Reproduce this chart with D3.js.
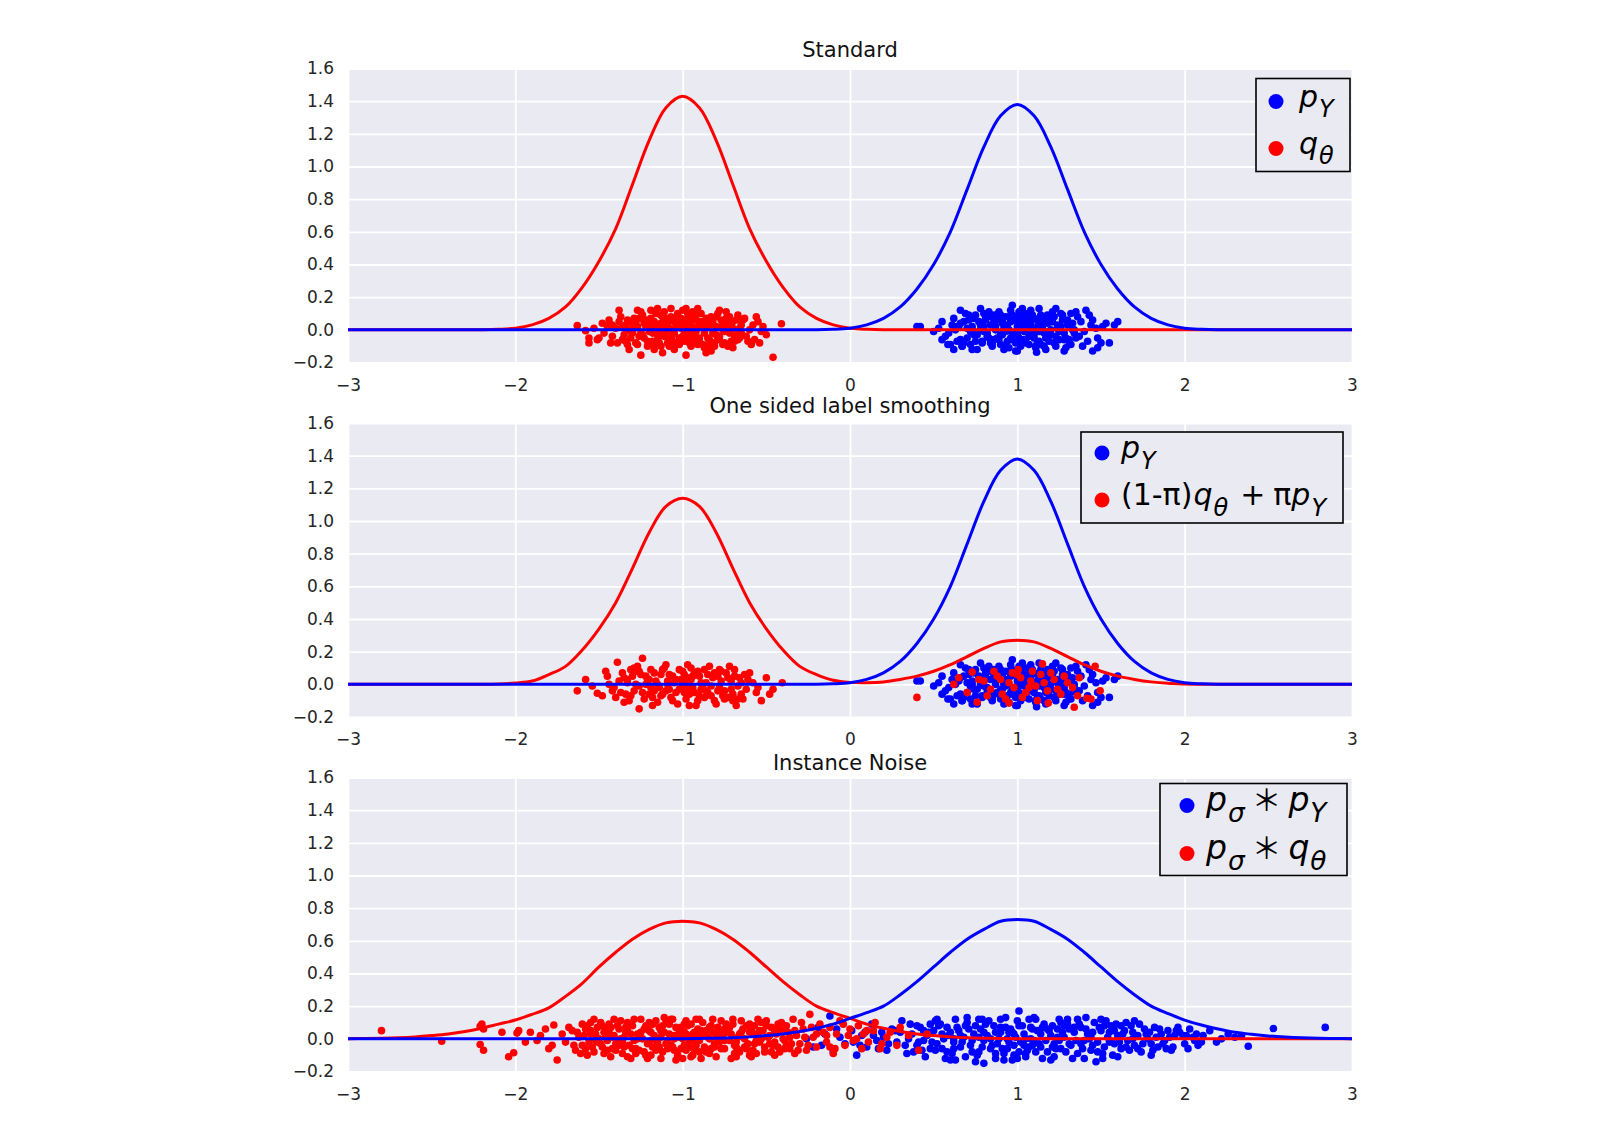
<!DOCTYPE html>
<html>
<head>
<meta charset="utf-8">
<script src="https://cdn.jsdelivr.net/npm/d3@7"></script>
<style>
  body { margin: 0; background: #fff; }
  svg { display: block; }
</style>
</head>
<body>
<script>
const xGrid = [-3, -2.9, -2.8, -2.7, -2.6, -2.5, -2.4, -2.3, -2.2, -2.1, -2, -1.9, -1.8, -1.7, -1.6, -1.5, -1.4, -1.3, -1.2, -1.1,
  -1, -0.9, -0.8, -0.7, -0.6, -0.5, -0.4, -0.3, -0.2, -0.1, 0, 0.1, 0.2, 0.3, 0.4, 0.5, 0.6, 0.7, 0.8, 0.9,
  1, 1.1, 1.2, 1.3, 1.4, 1.5, 1.6, 1.7, 1.8, 1.9, 2, 2.1, 2.2, 2.3, 2.4, 2.5, 2.6, 2.7, 2.8, 2.9, 3]

// curves
const stdRed = [0, 0, 0, 0, 0, 0, 0, 0, 0, 0.003, 0.01, 0.03, 0.07, 0.14, 0.26, 0.42, 0.62, 0.89, 1.16, 1.36,
  1.43, 1.36, 1.16, 0.89, 0.62, 0.42, 0.26, 0.14, 0.07, 0.03, 0.01, 0.003, 0, 0, 0, 0, 0, 0, 0, 0,
  0, 0, 0, 0, 0, 0, 0, 0, 0, 0, 0, 0, 0, 0, 0, 0, 0, 0, 0, 0, 0]
const stdBlue = [0, 0, 0, 0, 0, 0, 0, 0, 0, 0, 0, 0, 0, 0, 0, 0, 0, 0, 0, 0,
  0, 0, 0, 0, 0, 0, 0, 0, 0, 0.003, 0.01, 0.03, 0.07, 0.14, 0.25, 0.40, 0.60, 0.86, 1.12, 1.31,
  1.38, 1.31, 1.12, 0.86, 0.60, 0.40, 0.25, 0.14, 0.07, 0.03, 0.01, 0.003, 0, 0, 0, 0, 0, 0, 0, 0, 0]
const smoothRed = [0, 0, 0, 0, 0, 0, 0, 0, 0, 0.002, 0.008, 0.02, 0.06, 0.11, 0.21, 0.34, 0.50, 0.71, 0.93, 1.09,
  1.14, 1.09, 0.93, 0.71, 0.50, 0.34, 0.21, 0.11, 0.06, 0.025, 0.012, 0.01, 0.015, 0.03, 0.05, 0.08, 0.12, 0.17, 0.22, 0.26,
  0.27, 0.26, 0.22, 0.17, 0.12, 0.08, 0.05, 0.03, 0.015, 0.006, 0.002, 0, 0, 0, 0, 0, 0, 0, 0, 0, 0]
const noiseRed = [0.001, 0.002, 0.004, 0.007, 0.012, 0.02, 0.03, 0.045, 0.065, 0.09, 0.115, 0.15, 0.19, 0.26, 0.34, 0.44, 0.53, 0.61, 0.67, 0.71,
  0.72, 0.71, 0.67, 0.61, 0.53, 0.44, 0.35, 0.27, 0.20, 0.16, 0.125, 0.09, 0.065, 0.045, 0.03, 0.02, 0.012, 0.007, 0.004, 0.002,
  0.001, 0, 0, 0, 0, 0, 0, 0, 0, 0, 0, 0, 0, 0, 0, 0, 0, 0, 0, 0, 0]
const noiseBlue = [0, 0, 0, 0, 0, 0, 0, 0, 0, 0, 0, 0, 0, 0, 0, 0, 0, 0, 0, 0,
  0.001, 0.002, 0.004, 0.007, 0.012, 0.02, 0.03, 0.045, 0.065, 0.09, 0.125, 0.16, 0.20, 0.27, 0.35, 0.44, 0.53, 0.61, 0.67, 0.72,
  0.73, 0.72, 0.67, 0.61, 0.53, 0.44, 0.35, 0.27, 0.20, 0.155, 0.115, 0.085, 0.06, 0.04, 0.028, 0.018, 0.011, 0.006, 0.003, 0.002, 0.001]

// samples, flat x,y lists
const stdRedPts = [-1.00, .02, -0.98, -.03, -1.05, .05, -0.93, .00, -1.10, -.02, -0.88, .04, -1.15, .01, -0.85, -.05, -1.02, -.07, -0.97, .07,
  -1.20, .03, -0.80, .02, -1.08, -.06, -0.92, .06, -1.25, -.02, -0.75, -.01, -1.12, .08, -0.90, -.08, -1.30, .04, -0.70, .05,
  -1.03, .10, -0.95, -.10, -1.18, -.07, -0.83, .08, -1.22, .06, -0.78, -.06, -1.35, -.03, -0.68, -.03, -1.06, .00, -0.99, -.01,
  -1.14, -.04, -0.86, .01, -1.27, .02, -0.73, .03, -1.01, .04, -0.94, -.04, -1.09, .03, -0.91, .02, -1.17, .05, -0.82, -.02,
  -1.23, -.05, -0.77, .06, -1.32, .00, -0.66, .01, -1.38, .05, -0.62, -.04, -1.04, -.09, -0.96, .09, -1.11, .11, -0.87, -.11,
  -1.19, .00, -0.81, -.08, -1.28, -.08, -0.72, .08, -1.36, -.06, -0.64, .06, -1.07, .06, -0.93, -.06, -1.13, -.10, -0.89, .10,
  -1.24, .09, -0.76, -.09, -1.40, .01, -0.60, .00, -1.42, -.04, -0.58, .03, -1.05, -.12, -1.00, .12, -1.16, .10, -0.84, -.12,
  -1.21, -.10, -0.79, .10, -1.29, .07, -0.71, -.07, -1.33, -.09, -0.67, .09, -1.44, .06, -0.57, -.06, -1.47, -.02, -0.55, .05,
  -0.98, .05, -1.02, -.05, -1.08, .01, -0.92, -.01, -1.15, -.06, -0.86, .06, -1.26, -.04, -0.74, .04, -1.34, .03, -0.69, -.05,
  -1.10, .07, -0.90, -.07, -1.01, .01, -0.95, .03, -1.06, -.03, -0.97, -.06, -1.12, -.01, -0.85, .03, -1.20, -.01, -0.80, -.03,
  -1.31, -.01, -0.65, -.02, -1.37, .08, -0.63, .07, -1.45, .02, -0.53, -.01, -1.50, -.05, -0.52, .02, -1.48, .04, -0.50, -.03,
  -1.39, -.08, -0.59, -.09, -1.25, .11, -0.74, .11, -1.17, -.12, -0.83, -.13, -1.03, .08, -0.94, .11, -1.09, -.08, -0.88, -.09,
  -1.15, .13, -0.98, .13, -1.25, -.155, -0.98, -.155, -1.38, .12, -1.63, .026, -1.58, -.005, -1.56, -.05, -1.56, -.08, -1.51, -.06,
  -0.46, -.168, -0.41, .037, -1.42, .03, -1.53, .01, -0.56, .08, -0.61, -.07, -1.32, -.12, -0.70, -.11, -1.43, -.08, -0.54, -.08,
  -1.07, .13, -0.91, .13, -1.27, .12, -0.78, .12, -1.19, .12, -0.86, -.14, -1.12, -.14, -1.04, .03, -0.96, -.02, -1.13, .04,
  -1.33, .06, -1.31, -.05, -1.29, .01, -1.27, -.09, -1.26, .07, -1.24, -.03, -1.22, .02, -1.21, -.07, -1.19, .07, -1.18, -.02,
  -1.16, .03, -1.14, -.08, -1.13, .09, -1.11, -.04, -1.10, .02, -1.08, -.10, -1.07, .08, -1.05, -.02, -1.04, .06, -1.02, -.09,
  -1.01, .07, -0.99, -.07, -0.98, .02, -0.96, -.08, -0.95, .06, -0.93, -.03, -0.92, .09, -0.90, -.05, -0.89, .05, -0.87, -.02,
  -0.86, .07, -0.84, -.06, -0.83, .03, -0.81, -.10, -0.80, .08, -0.78, -.04, -0.77, .02, -0.75, -.08, -0.74, .07, -0.72, -.02,
  -0.71, .04, -0.69, -.07, -0.68, .06, -0.66, -.05, -0.65, .03, -1.36, .02, -1.34, -.07, -1.30, -.02, -1.28, .05, -1.23, .04,
  -1.20, .06, -1.17, -.09, -1.12, .00, -1.09, .05, -1.06, -.07, -1.03, .04, -1.00, -.04, -0.97, .10, -0.94, .01, -0.91, -.09,
  -0.88, .03, -0.85, -.09, -0.82, .05, -0.79, -.05, -0.76, .00, -0.73, -.10, -0.70, .01, -0.67, -.06, -1.15, -.03, -0.96, .04]

const stdBluePts = [1.00, -.02, 1.03, .03, 0.96, .05, 1.07, -.04, 0.92, .01, 1.12, .02, 0.88, -.05, 1.16, .06, 0.84, .03, 1.20, -.03,
  0.99, .08, 1.05, -.08, 0.94, -.07, 1.10, .07, 0.90, .09, 1.14, -.09, 0.80, -.01, 1.24, .01, 0.77, .05, 1.28, -.06,
  1.02, .00, 0.97, -.03, 1.08, .04, 0.93, -.01, 1.13, -.01, 0.87, .02, 1.18, .04, 0.82, -.04, 1.22, .08, 0.79, -.08,
  1.30, .03, 0.73, .02, 1.34, -.02, 0.70, -.05, 1.38, .05, 0.66, .04, 1.01, .11, 1.06, .10, 0.95, -.11, 1.11, -.11,
  0.89, .11, 1.17, -.12, 0.85, -.10, 1.26, .10, 0.75, .09, 1.32, -.09, 0.68, -.08, 1.40, -.01, 0.63, .00, 1.44, .03,
  1.04, -.06, 0.98, .06, 1.09, -.02, 0.91, .04, 1.15, .01, 0.86, -.06, 1.19, -.07, 0.81, .07, 1.23, -.04, 0.78, .00,
  1.27, .06, 0.74, -.03, 1.31, -.06, 0.71, .06, 1.36, .08, 0.67, -.10, 1.42, -.07, 0.62, .07, 1.47, .01, 0.59, -.02,
  1.00, .05, 1.02, -.10, 0.96, .12, 1.08, .12, 0.92, -.12, 1.13, .13, 0.83, .11, 1.21, .11, 0.76, -.12, 1.29, -.11,
  1.35, .11, 0.69, .10, 1.39, -.10, 0.64, -.07, 1.45, .06, 0.61, .03, 1.48, -.05, 0.57, -.04, 1.51, .02, 0.55, .05,
  1.05, .02, 0.97, -.06, 1.10, -.05, 0.93, .08, 1.16, -.02, 0.88, .06, 1.20, .05, 0.84, -.08, 1.25, -.01, 0.80, .02,
  1.33, .00, 0.72, -.01, 1.37, -.04, 0.65, .02, 1.43, .09, 0.60, -.09, 1.50, -.08, 0.53, .01, 1.53, .04, 0.50, -.01,
  1.07, .07, 0.99, -.13, 1.12, -.08, 0.90, -.09, 1.18, .09, 0.86, .09, 1.23, .13, 0.78, .13, 1.28, -.13, 0.73, -.12,
  0.97, .15, 1.45, -.13, 1.115, -.137, 1.00, -.13, 0.585, -.09, 0.55, -.06, 0.40, .02, 0.42, .02, 1.60, .05, 1.58, .03,
  1.55, -.08, 1.48, -.11, 1.41, .12, 0.66, .12, 0.62, -.12, 1.03, .13, 1.14, .04, 0.95, .00, 1.06, -.01, 0.91, -.03,
  0.66, -.06, 0.68, .05, 0.70, .01, 0.72, -.09, 0.74, .07, 0.76, -.03, 0.78, .03, 0.79, -.07, 0.81, .06, 0.82, -.02,
  0.84, .08, 0.85, -.08, 0.87, .00, 0.88, .09, 0.90, -.03, 0.91, .06, 0.93, -.10, 0.94, .03, 0.96, -.05, 0.97, .09,
  0.99, -.08, 1.00, .02, 1.01, -.05, 1.03, .07, 1.04, -.01, 1.06, .04, 1.07, -.09, 1.09, .09, 1.10, -.03, 1.12, .06,
  1.13, -.07, 1.15, .03, 1.16, -.10, 1.18, .08, 1.19, -.01, 1.21, .05, 1.22, -.08, 1.24, .03, 1.25, -.06, 1.27, .09,
  1.28, -.02, 1.30, .06, 1.31, -.09, 1.33, .04, 1.35, -.05, 0.64, .02, 0.67, -.10, 0.71, .09, 0.75, -.07, 0.80, .10,
  0.83, -.05, 0.86, .05, 0.89, -.06, 0.92, .00, 0.95, .08, 0.98, -.02, 1.02, .10, 1.05, -.06, 1.08, .01, 1.11, -.10,
  1.14, .09, 1.17, -.05, 1.20, .00, 1.23, -.10, 1.26, .02, 1.29, -.05, 1.32, .10, 1.34, .00, 0.73, .00, 1.00, -.07]

const smoothRedPts = [-1.24, .16, -1.39, .135, -1.63, -.04, -1.51, -.055, -1.42, -.04, -1.58, .03, -0.405, .01, -0.46, -.03, -1.26, -.15, -0.96, -.13, -0.68, -.13, -0.53, -.10,
  -1.00, -.01, -0.97, .04, -1.04, -.05, -0.93, .07, -1.09, .02, -0.89, -.03, -1.13, .06, -0.86, .01, -1.17, -.04, -0.83, -.07,
  -1.21, .03, -0.79, .05, -1.26, -.01, -0.75, -.04, -1.30, .05, -0.71, .02, -1.34, -.06, -0.67, -.01, -1.38, .02, -0.63, .06,
  -1.02, .09, -0.98, -.09, -1.07, -.08, -0.95, .10, -1.11, .10, -0.91, -.10, -1.15, -.11, -0.87, .09, -1.19, .09, -0.81, -.10,
  -1.23, -.09, -0.77, .08, -1.28, .08, -0.73, -.08, -1.32, -.10, -0.69, .09, -1.36, .07, -0.65, -.06, -1.41, -.02, -0.61, .03,
  -1.01, .03, -0.99, -.05, -1.05, .01, -0.94, -.02, -1.08, -.03, -0.90, .05, -1.12, -.06, -0.85, -.05, -1.16, .02, -0.82, .04,
  -1.20, -.06, -0.78, -.02, -1.25, .06, -0.74, .07, -1.29, -.04, -0.70, -.06, -1.33, .01, -0.66, .04, -1.37, -.05, -0.62, -.03,
  -1.45, .05, -0.58, .01, -1.48, -.07, -0.56, -.05, -1.03, -.12, -0.97, .12, -1.10, .12, -0.92, -.13, -1.18, -.13, -0.84, .11,
  -1.27, .11, -0.80, -.12, -1.35, -.11, -0.72, .11, -1.06, .05, -0.96, -.06, -1.14, -.02, -0.88, .00, -1.22, .00, -0.76, -.07,
  -1.31, .09, -0.64, -.09, -1.40, -.08, -0.60, .07, -1.44, .00, -0.55, -.02, -0.50, .04, -0.48, -.06, -1.54, -.01, -1.46, .08,
  -1.33, .03, -1.31, -.07, -1.28, .00, -1.26, .08, -1.24, -.05, -1.22, .05, -1.19, -.02, -1.17, .07, -1.15, .00, -1.12, .09,
  -1.10, -.04, -1.08, .06, -1.06, -.10, -1.04, .03, -1.02, -.03, -0.99, .06, -0.97, -.02, -0.95, .03, -0.93, -.05, -0.91, .08,
  -0.89, .01, -0.87, -.08, -0.85, .06, -0.83, -.01, -0.81, .07, -0.79, -.04, -0.77, .02, -0.75, -.09, -0.73, .04, -0.71, -.03,
  -0.69, .05, -0.67, -.09, -0.65, .01, -1.35, .04, -1.29, .10, -1.20, .03, -1.13, -.07, -1.00, .08, -0.94, .05, -0.86, -.04,
  -0.78, .09, -0.70, -.10, -1.18, -.08, -1.09, .00, -0.98, .01, -0.90, -.07,
  0.40, -.08, 0.62, .00, 0.65, .04, 0.73, .075, 0.76, -.11, 0.95, -.115, 1.005, .09, 1.15, .125, 1.185, -.115, 1.34, -.14,
  1.465, .11, 1.495, -.04, 1.415, -.085, 1.44, -.09, 0.80, .02, 0.84, -.03, 0.88, .05, 0.91, -.06, 0.95, .01, 0.98, -.02,
  1.02, .04, 1.05, -.05, 1.08, .02, 1.11, -.01, 1.14, .06, 1.18, -.04, 1.22, .03, 1.26, -.06, 1.30, .01, 0.86, .08,
  0.93, -.09, 1.00, .06, 1.03, -.08, 1.09, .08, 1.12, -.10, 1.20, .07, 1.24, -.03, 1.28, .05, 1.33, -.02, 1.37, .04,
  0.82, -.07, 0.90, .03, 0.97, .07, 1.07, -.02, 1.16, .01, 1.36, -.07, 0.70, -.05, 0.77, .03]

const noiseRedPts = [-2.80, .05, -2.44, -.015, -2.21, .077, -2.19, .06, -2.20, .09, -2.21, -.035, -2.19, -.07, -2.04, -.11, -2.01, -.085, -1.98, .05,
  -1.99, .035, -1.91, .04, -1.87, -.01, -1.77, .085, -1.80, -.06, -1.75, -.13, -1.72, .03, -1.70, -.02, -1.66, .05, -1.64, -.07,
  -1.62, .01, -1.60, -.04, -1.58, .06, -1.56, -.02, -1.55, .03, -1.53, -.08, -1.51, .07, -1.50, .00, -1.48, -.05, -1.47, .04,
  -1.45, -.01, -1.44, .09, -1.42, -.06, -1.41, .02, -1.39, -.03, -1.38, .06, -1.36, -.09, -1.35, .01, -1.33, .05, -1.32, -.04,
  -1.30, .08, -1.29, -.01, -1.27, .03, -1.26, -.07, -1.24, .00, -1.23, .06, -1.21, -.03, -1.20, .10, -1.18, -.05, -1.17, .02,
  -1.15, -.02, -1.14, .07, -1.12, -.08, -1.11, .04, -1.09, -.01, -1.08, .09, -1.06, -.05, -1.05, .02, -1.03, -.10, -1.02, .05,
  -1.00, .00, -0.99, -.04, -0.97, .08, -0.96, -.02, -0.94, .03, -0.93, -.07, -0.91, .06, -0.90, -.01, -0.88, .10, -0.87, -.05,
  -0.85, .01, -0.84, -.09, -0.82, .04, -0.81, -.03, -1.16, .11, -1.13, -.12, -1.07, .12, -1.04, -.13, -0.98, .11, -0.95, -.11,
  -0.92, .12, -0.89, -.12, -1.19, .04, -1.10, -.03, -1.01, .07, -0.98, -.07, -0.95, .00, -0.86, .05, -0.83, -.06, -1.05, .00,
  -1.13, .01, -0.92, -.04, -0.79, .07, -0.78, -.02, -0.76, .02, -0.75, -.06, -0.73, .05, -0.72, -.01, -0.70, .09, -0.69, -.04,
  -0.67, .01, -0.66, -.08, -0.64, .06, -0.63, .00, -0.61, -.03, -0.60, .04, -0.58, -.07, -0.57, .08, -0.55, .02, -0.54, -.02,
  -0.52, .05, -0.51, -.05, -0.49, .01, -0.47, .07, -0.46, -.04, -0.44, .03, -0.42, -.08, -0.41, .10, -0.39, -.01, -0.37, .04,
  -0.36, -.06, -0.34, .12, -0.32, .02, -0.30, -.03, -0.28, .06, -0.26, -.07, -0.24, .15, -0.22, .01, -0.20, -.05, -0.18, .09,
  -0.16, .04, -0.14, -.02, -0.12, .07, -0.10, -.09, -0.08, .03, -0.06, .11, -0.03, -.04, 0.00, .06, 0.02, -.01, 0.05, .08,
  0.08, .03, 0.11, -.02, 0.14, .05, 0.18, -.06, 0.22, .01, 0.28, -.04, 0.30, .07, 0.35, .02, 0.41, -.07, 0.46, .03,
  -1.57, -.10, -1.49, .10, -1.43, -.11, -1.37, .11, -1.31, -.12, -1.25, .12, -1.22, -.10, -0.77, .11, -0.71, -.12, -0.65, .11,
  -0.59, -.11, -0.53, .10, -0.45, -.10, -0.40, .05, -1.46, .05, -1.40, -.03, -1.34, .04, -1.28, -.06, -0.74, .04, -0.68, -.05,
  -0.62, .08, -0.56, -.01,
  -1.59, .02, -1.57, .08, -1.54, -.05, -1.52, .03, -1.49, -.03, -1.46, .01, -1.43, .07, -1.40, -.07, -1.37, .00, -1.35, -.05,
  -1.33, .10, -1.31, .03, -1.28, -.09, -1.25, .04, -1.22, .08, -1.19, -.01, -1.16, -.07, -1.13, .05, -1.10, .10, -1.07, -.04,
  -1.04, .07, -1.01, -.06, -0.98, .03, -0.95, .09, -0.92, -.01, -0.89, .05, -0.86, -.08, -0.83, .08, -0.80, .01, -0.77, -.06,
  -0.74, .09, -0.71, .03, -0.68, -.02, -0.65, .04, -0.62, -.06, -0.59, .06, -0.56, -.09, -0.53, .00, -0.50, .08, -0.48, -.03,
  -0.45, .05, -0.43, -.05, -0.40, .00, -0.38, .08, -0.35, -.03, -0.33, .05, -0.31, -.07, -0.29, .10, -0.27, .01, -0.25, -.04,
  -1.68, .07, -1.65, -.04, -1.61, -.09, -1.55, .10, -1.47, -.09, -1.39, .08, -1.29, .12, -1.21, -.12, -1.11, .13, -1.00, -.12,
  -0.90, .12, -0.80, -.11, -0.70, .12, -0.60, -.10, -0.50, .11, -1.85, .02, -1.82, .06, -1.78, -.04, -1.94, -.02, -2.08, .04,
  -1.52, -.01, -1.44, .04, -1.36, -.02, -1.27, .00, -1.18, .09, -1.09, -.06, -0.99, .04, -0.91, .02, -0.84, .00, -0.75, .06,
  -0.66, -.07, -0.57, .03, -0.47, -.08, -0.38, -.04, -0.20, .03, -0.12, -.05, -0.04, .09, 0.07, -.06, 0.15, .10, 0.24, .04,
  -1.58, -.06, -1.55, .05, -1.51, -.02, -1.48, .08, -1.45, -.07, -1.42, .01, -1.38, -.04, -1.34, .07, -1.30, -.06, -1.26, .02,
  -1.23, -.08, -1.20, .05, -1.17, .00, -1.14, -.05, -1.12, .08, -1.08, .03, -1.05, -.07, -1.02, .01, -0.99, .09, -0.96, -.05,
  -0.93, .04, -0.90, -.08, -0.87, .02, -0.84, .07, -0.81, -.05, -0.78, .04, -0.75, -.01, -0.72, .07, -0.69, -.09, -0.66, .03,
  -0.63, -.05, -0.60, .09, -0.57, -.03, -0.54, .05, -0.51, -.08, -0.48, .02, -0.45, -.02, -0.42, .06, -0.39, -.06, -0.36, .01,
  -1.63, .04, -1.60, .09, -1.53, .12, -1.41, .12, -1.33, -.11, -1.19, -.10, -1.06, .12, -0.94, -.10, -0.82, .12, -0.68, -.11,
  -0.55, .12, -0.43, .09, -0.33, -.09, -0.23, .07, -0.14, .02, -0.09, -.06, -0.01, .02, 0.04, .00, 0.10, .05, 0.19, -.03]

const noiseBluePts = [-0.26, .00, -0.22, -.05, -0.19, .07, -0.15, .03, -0.12, .14, -0.10, -.08, -0.06, .01, -0.03, -.03, 0.01, .05, 0.04, -.10,
  0.07, .02, 0.10, -.05, 0.13, .09, 0.16, -.01, 0.19, .04, 0.22, -.07, 0.25, .06, 0.28, -.02, 0.31, .11, 0.34, -.09,
  0.37, .03, 0.40, -.04, 0.42, .07, 0.44, -.01, 0.46, .02, 0.48, -.06, 0.50, .05, 0.52, -.03, 0.54, .09, 0.56, .00,
  0.58, -.08, 0.60, .04, 0.62, -.02, 0.64, .07, 0.66, -.05, 0.68, .01, 0.70, .10, 0.72, -.04, 0.74, .03, 0.76, -.10,
  0.78, .06, 0.80, -.01, 0.45, -.11, 0.51, .11, 0.57, -.12, 0.63, .12, 0.69, -.11, 0.75, -.14, 0.79, .12,
  0.82, .02, 0.84, -.06, 0.86, .08, 0.88, -.03, 0.90, .04, 0.92, -.09, 0.94, .00, 0.96, .06, 0.98, -.04, 1.00, .11,
  1.02, -.02, 1.04, .03, 1.06, -.07, 1.08, .07, 1.10, -.01, 1.12, .05, 1.14, -.05, 1.16, .09, 1.18, -.08, 1.20, .02,
  0.83, .11, 0.87, -.12, 0.93, .13, 0.97, -.13, 1.01, .17, 1.05, -.11, 1.11, .12, 1.15, -.12, 0.89, .00, 0.99, .01,
  1.09, -.04, 1.19, .05, 1.22, -.03, 1.24, .06, 1.26, -.06, 1.28, .01, 1.30, .09, 1.32, -.04, 1.34, .04, 1.36, -.09,
  1.38, .07, 1.40, -.01, 1.42, .03, 1.44, -.07, 1.46, .10, 1.48, -.02, 1.50, .05, 1.52, -.05, 1.54, .01, 1.56, .08,
  1.58, -.03, 1.60, .02, 1.25, .12, 1.33, -.12, 1.41, .13, 1.47, -.14, 1.53, .11, 1.57, -.10,
  1.62, -.06, 1.64, .05, 1.66, -.01, 1.68, .08, 1.70, -.04, 1.72, .02, 1.74, -.08, 1.76, .06, 1.78, .00, 1.80, -.03,
  1.82, .07, 1.84, -.05, 1.86, .03, 1.88, -.01, 1.90, .05, 1.92, -.07, 1.94, .02, 1.97, .04, 2.00, -.03, 2.03, .06,
  2.05, .01, 2.08, -.04, 2.11, .02, 2.15, .05, 2.19, -.02, 2.22, .00, 2.26, .03, 2.30, .01, 2.34, .02, 2.38, -.045,
  2.53, .063, 2.84, .07,
  0.40, .08, 0.43, -.07, 0.47, .04, 0.49, -.02, 0.53, .08, 0.55, -.06, 0.59, .02, 0.61, -.09, 0.65, .05, 0.67, -.02,
  0.71, .06, 0.73, -.08, 0.77, .01, 0.79, -.05, 0.81, .09, 0.85, -.04, 0.87, .04, 0.91, -.06, 0.93, .07, 0.95, -.02,
  0.97, .04, 1.01, -.08, 1.03, .08, 1.05, .00, 1.07, -.05, 1.09, .06, 1.13, -.03, 1.15, .07, 1.17, -.01, 1.21, .08,
  1.23, -.06, 1.27, .04, 1.29, -.08, 1.31, .06, 1.35, -.01, 1.37, .09, 1.39, -.06, 1.43, .00, 1.45, -.04, 1.49, .07,
  1.51, -.09, 1.55, .04, 1.59, .09, 1.61, -.02, 1.63, .03, 1.67, -.07, 1.69, .04, 1.73, .09, 1.75, -.03, 1.79, .04,
  1.81, -.07, 1.85, .06, 1.87, -.03, 1.91, .01, 1.93, -.05, 1.96, .07, 1.99, .02, 2.02, -.06, 2.07, .03, 2.10, -.02,
  0.30, .04, 0.33, -.04, 0.36, .09, 0.38, -.08, 0.20, .01, 0.17, -.06, 0.09, .04, 0.02, -.02, -0.08, .06, -0.17, -.04,
  0.52, .12, 0.60, -.13, 0.70, .13, 0.80, -.15, 0.90, .12, 1.00, -.12, 1.10, .13, 1.20, -.13, 1.30, .12, 1.40, -.12,
  1.50, .12, 1.60, -.11, 1.70, .11, 1.80, -.10, 0.95, .04, 1.05, -.09, 1.25, -.01, 1.45, .04, 0.75, .08, 0.62, .00,
  0.41, -.02, 0.44, .05, 0.48, .09, 0.51, -.07, 0.55, .03, 0.58, .07, 0.62, -.06, 0.66, .02, 0.69, .08, 0.73, -.01,
  0.77, -.08, 0.80, .04, 0.84, .00, 0.87, -.09, 0.90, .07, 0.94, -.06, 0.98, .03, 1.01, .08, 1.04, -.04, 1.08, .00,
  1.11, -.08, 1.14, .03, 1.18, .06, 1.21, -.05, 1.24, .01, 1.28, .08, 1.31, -.03, 1.34, .07, 1.38, -.03, 1.41, .06,
  1.44, .02, 1.48, -.08, 1.52, .08, 1.55, -.02, 1.58, .05, 1.62, .08, 1.65, -.05, 1.69, .00, 1.72, -.06, 1.77, .03,
  1.83, .01, 1.89, -.06, 1.95, .05, 2.01, .02, 2.06, -.01, 0.35, .00, 0.27, .05, 0.23, -.03, 0.14, .02, 0.06, -.04,
  0.63, -.13, 0.77, .12, 0.92, -.13, 1.07, .12, 1.22, -.11, 1.36, .12, 1.51, -.12, 1.65, .10, 0.98, -.10, 1.26, .10]

const panelTitles = ['Standard', 'One sided label smoothing', 'Instance Noise']
const xTicks = [-3, -2, -1, 0, 1, 2, 3]
const yTicks = [-0.2, 0, 0.2, 0.4, 0.6, 0.8, 1.0, 1.2, 1.4, 1.6]

// legend labels as [text, kind, gap]: i italic, s italic subscript, r roman, a thin star
const legendStd = [[['p', 'i'], ['Y', 's', 1]], [['q', 'i'], ['θ', 's', 1]]]
const legendSmooth = [[['p', 'i'], ['Y', 's', 1]],
  [['(1-π)', 'r'], ['q', 'i', 1], ['θ', 's', 1], ['+', 'r', 12], ['π', 'r', 8], ['p', 'i'], ['Y', 's', 1]]]
const legendNoise = [[['p', 'i'], ['σ', 's', 1], ['＊', 'a', 7], ['p', 'i', 7], ['Y', 's', 1]],
  [['p', 'i'], ['σ', 's', 1], ['＊', 'a', 7], ['q', 'i', 7], ['θ', 's', 1]]]

const pairs = flat => d3.range(0, flat.length, 2).map(i => [flat[i], flat[i + 1]])

const panels = [
  { title: panelTitles[0], red: stdRed, blue: stdBlue, redPts: stdRedPts, bluePts: stdBluePts, legend: legendStd,
    titleDy: -12, box: { x: 1256, dy: 10, w: 94, h: 93, mx: 20, row0: 23, gap: 47, tx: 43, size: 30 } },
  { title: panelTitles[1], red: smoothRed, blue: stdBlue, redPts: smoothRedPts, bluePts: stdBluePts, legend: legendSmooth,
    titleDy: -10, box: { x: 1081, dy: 9, w: 262, h: 91, mx: 21, row0: 21, gap: 47, tx: 40, size: 30 } },
  { title: panelTitles[2], red: noiseRed, blue: noiseBlue, redPts: noiseRedPts, bluePts: noiseBluePts, legend: legendNoise,
    titleDy: -8, box: { x: 1160, dy: 6, w: 187, h: 92, mx: 27, row0: 22, gap: 48, tx: 46, size: 33 } }
]

const W = 1620
const H = 1136
const plotLeft = 348
const plotWidth = 1004
const plotHeight = 294
const panelTops = [68.5, 423, 777.5]
const RED = '#ff0000'
const BLUE = '#0000ff'
const FONT = '"DejaVu Sans", sans-serif'

const svg = d3.select('body').append('svg')
  .attr('width', W).attr('height', H)
  .style('font-family', FONT)

const x = d3.scaleLinear().domain([-3, 3]).range([plotLeft, plotLeft + plotWidth])

function mathText (g, tx, ty, segs, size) {
  const t = g.append('text').attr('x', tx).attr('y', ty).attr('fill', '#000').style('font-family', FONT)
  let down = 0
  segs.forEach(([s, kind, gap]) => {
    const sub = kind === 's'
    const shift = (sub ? size * 0.36 : 0) - down
    down += shift
    const ts = t.append('tspan')
      .attr('dx', gap || 0)
      .attr('dy', shift)
      .style('font-style', kind === 'r' || kind === 'a' ? 'normal' : 'italic')
      .style('font-size', (sub ? size * 0.8 : kind === 'a' ? size * 0.9 : size) + 'px')
      .text(s)
    if (kind === 'a') ts.style('font-family', '"Noto Sans CJK JP", sans-serif')
  })
}

panels.forEach((p, i) => {
  const top = panelTops[i]
  const y = d3.scaleLinear().domain([-0.2, 1.6]).range([top + plotHeight, top])
  const g = svg.append('g')

  g.append('rect')
    .attr('x', plotLeft).attr('y', top)
    .attr('width', plotWidth).attr('height', plotHeight)
    .attr('fill', '#eaeaf2')

  const yAxis = g.append('g')
    .attr('transform', `translate(${plotLeft},0)`)
    .call(d3.axisLeft(y).tickValues(yTicks).tickFormat(d3.format('.1f')).tickSize(-plotWidth).tickPadding(14))
  const xAxis = g.append('g')
    .attr('transform', `translate(0,${top + plotHeight})`)
    .call(d3.axisBottom(x).tickValues(xTicks).tickFormat(d3.format('d')).tickSize(-plotHeight).tickPadding(16))

  ;[yAxis, xAxis].forEach(a => {
    a.attr('font-family', null).attr('font-size', null)
    a.select('.domain').remove()
    a.selectAll('line').attr('stroke', '#fff').attr('stroke-width', 1.8)
    a.selectAll('text').attr('fill', '#262626').style('font-size', '17px').style('font-family', FONT)
  })

  g.append('text')
    .attr('x', plotLeft + plotWidth / 2)
    .attr('y', top + p.titleDy)
    .attr('text-anchor', 'middle')
    .attr('fill', '#111')
    .style('font-size', '21px')
    .text(p.title)

  const dots = g.append('g')
  dots.selectAll('circle.b').data(pairs(p.bluePts)).enter()
    .append('circle').attr('class', 'b')
    .attr('cx', d => x(d[0])).attr('cy', d => y(d[1])).attr('r', 3.8)
    .attr('fill', BLUE)
  dots.selectAll('circle.r').data(pairs(p.redPts)).enter()
    .append('circle').attr('class', 'r')
    .attr('cx', d => x(d[0])).attr('cy', d => y(d[1])).attr('r', 3.8)
    .attr('fill', RED)

  const line = d3.line().x((d, k) => x(xGrid[k])).y(d => y(d)).curve(d3.curveCatmullRom.alpha(0.5))
  g.append('path').datum(p.red)
    .attr('d', line).attr('fill', 'none').attr('stroke', RED).attr('stroke-width', 3)
  g.append('path').datum(p.blue)
    .attr('d', line).attr('fill', 'none').attr('stroke', BLUE).attr('stroke-width', 3)

  // legend
  const b = p.box
  const by = top + b.dy
  const lg = g.append('g')
  lg.append('rect')
    .attr('x', b.x).attr('y', by).attr('width', b.w).attr('height', b.h)
    .attr('fill', '#eaeaf2').attr('stroke', '#000').attr('stroke-width', 1.6)
  p.legend.forEach((segs, k) => {
    const cy = by + b.row0 + k * b.gap
    lg.append('circle').attr('cx', b.x + b.mx).attr('cy', cy).attr('r', 7.5)
      .attr('fill', k === 0 ? BLUE : RED)
    mathText(lg, b.x + b.tx, cy + 5, segs, b.size)
  })
})
</script>
</body>
</html>
